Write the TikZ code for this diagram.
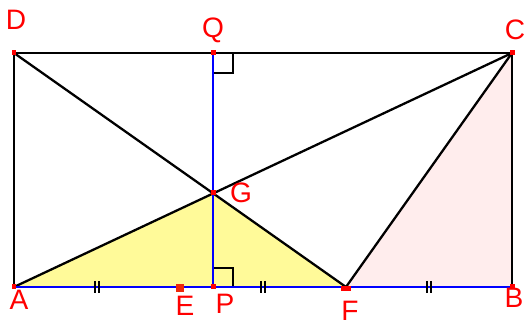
\documentclass[tikz,border=0pt]{standalone}
\usepackage{fontspec}
\setmainfont{Liberation Sans}
\usetikzlibrary{positioning,calc}
\begin{document}
\begin{tikzpicture}[x=0.02cm, y=-0.02cm,
        pt/.style={rectangle, fill=red, inner sep=0pt, minimum size=0.1cm},
        lbl/.style={text=red, font=\fontsize{16}{18}\selectfont, inner sep=0pt},
        edge/.style={black, line width=1.3pt},
        base/.style={blue, line width=1.4pt},
        tick/.style={black, line width=1.2pt}
    ]
    \useasboundingbox (0,0) rectangle (525,324);

    % Points of the rectangle
    \coordinate (A) at (14,287);
    \coordinate (B) at (512,287);
    \coordinate (C) at (512,53);
    \coordinate (D) at (14,53);
    \coordinate (E) at (180,287);
    \coordinate (F) at (346,287);
    \coordinate (G) at (213,193);
    \coordinate (P) at (213,287);
    \coordinate (Q) at (213,53);

    % Shaded triangles
    \fill[yellow!40] (A) -- (G) -- (F) -- cycle;
    \fill[red!7] (F) -- (B) -- (C) -- cycle;

    % Rectangle and diagonals
    \draw[edge] (A) -- (D) -- (C) -- (B);
    \draw[edge] (D) -- (F);
    \draw[edge] (A) -- (C);
    \draw[edge] (C) -- (F);

    % Right angles
    \draw[edge, line width=1.1pt] ([shift={(20,0)}]Q) -- ([shift={(20,20)}]Q) -- ([shift={(0,20)}]Q);
    \draw[edge, line width=1.1pt] ([shift={(0,-19)}]P) -- ([shift={(20,-19)}]P) -- ([shift={(20,0)}]P);

    % Blue lines
    \draw[base] (Q) -- (P);
    \draw[base] (A) -- (B);

    % Equal parts
    \foreach \p/\q in {A/E, E/F, F/B} {
        \coordinate (m) at ($(\p)!0.5!(\q)$);
        \draw[tick] ([shift={(-2,-6)}]m) -- ([shift={(-2,6)}]m);
        \draw[tick] ([shift={(2,-6)}]m) -- ([shift={(2,6)}]m);
    }

    % Point marks
    \foreach \n in {A,B,C,D,G,P,Q}
        \node[pt] (\n-pt) at (\n) {};
    \node[pt, fill={rgb,255:red,240;green,40;blue,10}, minimum width=0.18cm, minimum height=0.16cm] (E-pt) at ([shift={(0,1)}]E) {};
    \node[pt, minimum width=0.2cm, minimum height=0.1cm] (F-pt) at ([shift={(0,2)}]F) {};

    % Labels
    \node[lbl] (D-lbl) at (16,20) {D};
    \node[lbl] (Q-lbl) at (213,30) {Q};
    \node[lbl] (C-lbl) at (515,30) {C};
    \node[lbl] (G-lbl) at (241,193) {G};
    \node[lbl] (A-lbl) at (19,300) {A};
    \node[lbl] (E-lbl) at (185,306) {E};
    \node[lbl] (P-lbl) at (225,304) {P};
    \node[lbl] (F-lbl) at (350,311) {F};
    \node[lbl] (B-lbl) at (514,298) {B};

\end{tikzpicture}
\end{document}
